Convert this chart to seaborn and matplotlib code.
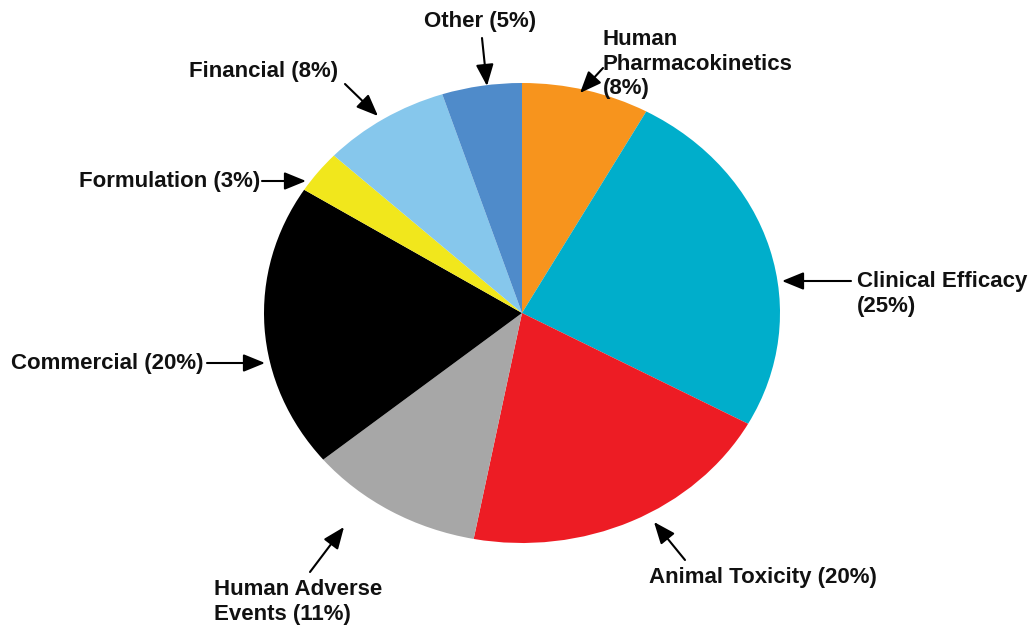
import matplotlib
matplotlib.use("Agg")
import matplotlib.pyplot as plt
import seaborn as sns

sns.set_theme(style="white")
plt.rcParams['font.family'] = ['Liberation Sans', 'DejaVu Sans']

categories = ["Human Pharmacokinetics", "Clinical Efficacy", "Animal Toxicity",
              "Human Adverse Events", "Commercial", "Formulation", "Financial", "Other"]
values = [8, 25, 20, 11, 20, 3, 8, 5]
colors = ["#F7941D", "#00AECB", "#ED1C24", "#A7A7A7", "#000000", "#F1E71C", "#86C7EC", "#4F8BCA"]

W, H = 1033, 626
fig = plt.figure(figsize=(W / 100, H / 100), dpi=100)
ax = fig.add_axes([0, 0, 1, 1])

cx, cy, rx, ry = 522, 313, 258, 230
ax.pie(values, colors=colors, startangle=90, counterclock=False,
       wedgeprops=dict(linewidth=0), frame=True)
ax.set_aspect('auto')
ax.set_xlim((0 - cx) / rx, (W - cx) / rx)
ax.set_ylim((cy - H) / ry, cy / ry)
ax.axis('off')


def pix(x, y):
    return ((x - cx) / rx, (cy - y) / ry)


# line breaks as in the reference
texts = {
    0: "Human\nPharmacokinetics\n({}%)",
    1: "Clinical Efficacy\n({}%)",
    2: "Animal Toxicity ({}%)",
    3: "Human Adverse\nEvents ({}%)",
    4: "Commercial ({}%)",
    5: "Formulation ({}%)",
    6: "Financial ({}%)",
    7: "Other ({}%)",
}
# (text_x, text_y, ha, va, arrow_tail, arrow_head)
layout = {
    0: (603, 64, 'left', 'center', (603, 68), (580, 93)),
    1: (857, 294, 'left', 'center', (851, 281), (782, 281)),
    2: (649, 578, 'left', 'center', (685, 560), (654, 522)),
    3: (214, 602, 'left', 'center', (310, 572), (344, 527)),
    4: (11, 363, 'left', 'center', (207, 363), (265, 363)),
    5: (79, 181, 'left', 'center', (262, 181), (306, 181)),
    6: (189, 72, 'left', 'center', (345, 84), (378, 116)),
    7: (480, 22, 'center', 'center', (482, 38), (487, 86)),
}

arrowprops = dict(arrowstyle='-|>,head_length=1.1,head_width=0.45', lw=1.5,
                  color='black', shrinkA=0, shrinkB=0)
for i, txt in texts.items():
    tx, ty, ha, va, tail, head = layout[i]
    ax.text(*pix(tx, ty), txt.format(values[i]), ha=ha, va=va, fontsize=16,
            fontweight='bold', color='#111111', linespacing=1.2)
    ax.annotate("", xy=pix(*head), xytext=pix(*tail), arrowprops=arrowprops)

fig.savefig("out.png", dpi=100, facecolor='white')
